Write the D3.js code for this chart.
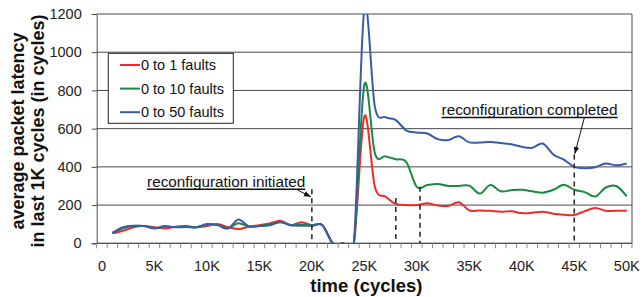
<!DOCTYPE html>
<html>
<head>
<meta charset="utf-8">
<script src="https://d3js.org/d3.v7.min.js"></script>
<style>
  body { margin: 0; background: #fff; }
  text { font-family: "Liberation Sans", Arial, sans-serif; }
</style>
</head>
<body>
<div id="chart"></div>
<script>
// time in K cycles (1K .. 50K)
const times = d3.range(1, 51);
const xLabels = ["0", "5K", "10K", "15K", "20K", "25K", "30K", "35K", "40K", "45K", "50K"];
const yTicks = [0, 200, 400, 600, 800, 1000, 1200];
const seriesNames = ["0 to 1 faults", "0 to 10 faults", "0 to 50 faults"];
const seriesColors = ["#ee2a2a", "#1a8a40", "#3b5ba9"];

const fault1 = [52, 66, 84, 90, 84, 78, 87, 90, 84, 90, 101, 84, 75, 87, 95, 104, 118, 95, 110, 95,
  95, 0, 0, 0, 665, 296, 245, 206, 200, 200, 210, 198, 196, 215, 172, 172, 170, 165, 168, 158,
  160, 165, 155, 150, 148, 168, 185, 170, 170, 170];
const fault10 = [54, 78, 90, 90, 80, 86, 85, 87, 84, 97, 97, 80, 105, 88, 92, 98, 112, 95, 98, 93,
  95, 0, 0, 0, 830, 472, 455, 440, 425, 295, 305, 310, 300, 300, 302, 260, 305, 272, 278, 280,
  272, 265, 280, 306, 280, 268, 245, 292, 300, 245];
const fault50 = [55, 84, 92, 90, 78, 90, 84, 85, 84, 101, 95, 77, 125, 88, 90, 95, 110, 95, 92, 92,
  95, 0, 0, 0, 1230, 715, 660, 645, 590, 580, 575, 545, 540, 560, 528, 528, 530, 525, 518, 505,
  500, 522, 465, 438, 400, 393, 398, 418, 408, 418];

// annotation markers: [time K, top value of dashed line]
const markers = [[20, 283], [28, 237], [30.3, 296], [45, 465]];

const W = 642, H = 297;
const m = {left: 96.7, right: 632, top: 14, bottom: 243.3};

const svg = d3.select("#chart").append("svg")
  .attr("width", W).attr("height", H);

const x = d3.scaleLinear().domain([-0.5, 50.5]).range([m.left, m.right]);
const y = d3.scaleLinear().domain([0, 1200]).range([m.bottom, m.top]);

// gridlines
svg.append("g")
  .selectAll("line")
  .data(yTicks)
  .join("line")
    .attr("x1", m.left).attr("x2", m.right)
    .attr("y1", d => y(d)).attr("y2", d => y(d))
    .attr("stroke", "#4a4a4a").attr("stroke-width", 1);

// plot border (right side)
svg.append("line")
  .attr("x1", m.right).attr("x2", m.right).attr("y1", m.top).attr("y2", m.bottom)
  .attr("stroke", "#4a4a4a");

// y axis
const yAxis = svg.append("g")
  .attr("transform", `translate(${m.left},0)`)
  .call(d3.axisLeft(y).tickValues(yTicks).tickFormat(d3.format("d")).tickSize(5).tickPadding(10));
yAxis.select(".domain").attr("stroke", "#4a4a4a");
yAxis.selectAll(".tick line").attr("stroke", "#4a4a4a");
yAxis.selectAll("text").style("font-size", "14.5px").attr("fill", "#222")
  .style("font-family", "'Liberation Sans', Arial, sans-serif");

// x axis: tick marks between categories, labels every 5K
const xAxis = svg.append("g").attr("transform", `translate(0,${m.bottom})`);
xAxis.append("line").attr("x1", m.left).attr("x2", m.right)
  .attr("stroke", "#4a4a4a");
xAxis.selectAll(".tk")
  .data(d3.range(0, 52))
  .join("line")
    .attr("class", "tk")
    .attr("x1", d => x(d - 0.5)).attr("x2", d => x(d - 0.5))
    .attr("y1", 0).attr("y2", 5)
    .attr("stroke", "#888");
xAxis.selectAll(".lbl")
  .data(xLabels)
  .join("text")
    .attr("class", "lbl")
    .attr("x", (d, i) => x(i * 5))
    .attr("y", 28)
    .attr("text-anchor", "middle")
    .attr("fill", "#222")
    .style("font-size", "14.5px")
    .text(d => d);

// clip
svg.append("clipPath").attr("id", "clip")
  .append("rect").attr("x", m.left).attr("y", m.top)
  .attr("width", m.right - m.left).attr("height", m.bottom - m.top);

const line = d3.line()
  .x((d, i) => x(times[i]))
  .y(d => y(d))
  .curve(d3.curveCardinal.tension(0));

const plot = svg.append("g").attr("clip-path", "url(#clip)");
[fault1, fault10, fault50].forEach((s, i) => {
  plot.append("path")
    .datum(s)
    .attr("d", line)
    .attr("fill", "none")
    .attr("stroke", seriesColors[i])
    .attr("stroke-width", 2)
    .attr("stroke-linejoin", "round");
});

// dashed marker lines
svg.append("g")
  .selectAll("line")
  .data(markers)
  .join("line")
    .attr("x1", d => x(d[0])).attr("x2", d => x(d[0]))
    .attr("y1", d => y(d[1])).attr("y2", m.bottom)
    .attr("stroke", "#222").attr("stroke-width", 1.5)
    .attr("stroke-dasharray", "5,4");

// arrowhead
svg.append("defs").append("marker")
  .attr("id", "arrow")
  .attr("viewBox", "0 0 10 10")
  .attr("refX", 10).attr("refY", 5)
  .attr("markerWidth", 7).attr("markerHeight", 7)
  .attr("orient", "auto")
  .append("path").attr("d", "M0,1 L10,5 L0,9 Z").attr("fill", "#111");

function note(label, tx, tv, ax1, av1, ax2, av2) {
  const t = svg.append("text")
    .attr("x", x(tx)).attr("y", y(tv))
    .attr("fill", "#111")
    .style("font-size", "15.3px")
    .text(label);
  const len = t.node().getComputedTextLength();
  svg.append("line")
    .attr("x1", x(tx)).attr("x2", x(tx) + len)
    .attr("y1", y(tv) + 2.5).attr("y2", y(tv) + 2.5)
    .attr("stroke", "#111").attr("stroke-width", 1.5);
  svg.append("line")
    .attr("x1", x(ax1)).attr("y1", y(av1))
    .attr("x2", x(ax2)).attr("y2", y(av2))
    .attr("stroke", "#111").attr("stroke-width", 1)
    .attr("marker-end", "url(#arrow)");
}
note("reconfiguration initiated", 4.3, 296, 18.6, 280, 19.9, 243);
note("reconfiguration completed", 32.36, 671, 45.95, 655, 45.05, 468);

// legend
const lg = svg.append("g");
lg.append("rect")
  .attr("x", 108.3).attr("y", 53.3).attr("width", 125).attr("height", 70)
  .attr("fill", "#fff").attr("stroke", "#222").attr("stroke-width", 1);
seriesNames.forEach((n, i) => {
  const yy = 65 + i * 23.6;
  lg.append("line").attr("x1", 120).attr("x2", 140).attr("y1", yy).attr("y2", yy)
    .attr("stroke", seriesColors[i]).attr("stroke-width", 2);
  lg.append("text").attr("x", 141).attr("y", yy + 5)
    .attr("fill", "#111").style("font-size", "14.5px").text(n);
});

// axis titles
svg.append("text")
  .attr("x", (m.left + m.right) / 2 + 2).attr("y", 292)
  .attr("text-anchor", "middle")
  .style("font-size", "18.5px").style("font-weight", "bold")
  .attr("fill", "#111")
  .text("time (cycles)");

const yt = svg.append("text")
  .attr("transform", "translate(0,131) rotate(-90)")
  .attr("text-anchor", "middle")
  .style("font-size", "18px").style("font-weight", "bold")
  .attr("fill", "#111");
yt.append("tspan").attr("x", 0).attr("y", 24).text("average packet latency");
yt.append("tspan").attr("x", 0).attr("y", 43.5).text("in last 1K cycles (in cycles)");
</script>
</body>
</html>
